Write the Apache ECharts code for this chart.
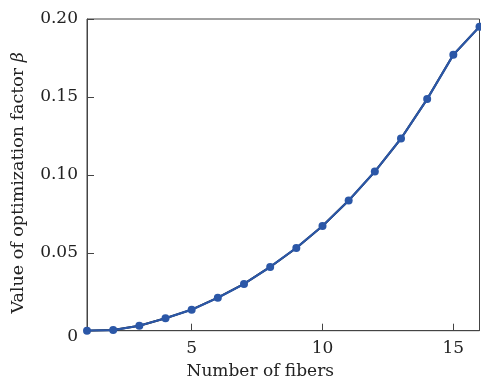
<!DOCTYPE html>
<html><head><meta charset="utf-8">
<script src="https://cdn.jsdelivr.net/npm/echarts@6/dist/echarts.min.js"></script>
<style>html,body{margin:0;padding:0;background:#fff}#c{width:481px;height:378px}</style>
</head><body><div id="c"></div>
<script>
const fibers = [1,2,3,4,5,6,7,8,9,10,11,12,13,14,15,16];
const beta = [0,0.0004,0.0032,0.0080,0.0135,0.0212,0.0300,0.0409,0.0531,0.0672,0.0835,0.1021,0.1233,0.1486,0.1770,0.1951];
const xTicks = [5,10,15];
const yTicks = [0,0.05,0.10,0.15,0.20];

const pts = fibers.map((x,i)=>[x,beta[i]]);
const font = '"DejaVu Serif", "Liberation Serif", serif';
const chart = echarts.init(document.getElementById('c'));
chart.setOption({
  animation:false,
  grid:{left:87,top:19,right:1.5,bottom:47.3,show:true,borderColor:'#444',borderWidth:1,
    containLabel:false,outerBoundsMode:'none'},
  xAxis:{type:'value',min:1,max:16,
    axisLine:{show:true,lineStyle:{color:'#444',width:1}},
    axisTick:{show:true,inside:true,length:7,lineStyle:{color:'#444'},customValues:xTicks},
    splitLine:{show:false},
    axisLabel:{color:'#222',fontFamily:font,fontSize:17,margin:9,customValues:xTicks},
    name:'Number of fibers',nameLocation:'middle',nameGap:32,
    nameTextStyle:{color:'#222',fontFamily:font,fontSize:17,padding:[0,46,0,0]}},
  yAxis:{type:'value',min:0,max:0.2,interval:0.05,
    axisLine:{show:true,lineStyle:{color:'#444',width:1}},
    axisTick:{show:true,inside:true,length:7,lineStyle:{color:'#444'}},
    splitLine:{show:false},
    axisLabel:{color:'#222',fontFamily:font,fontSize:17,margin:9,
      formatter:v=>{const t=yTicks.find(k=>Math.abs(k-v)<1e-9);return t===0?'{z|0}':t.toFixed(2);},
      rich:{z:{fontFamily:font,fontSize:17,color:'#222',padding:[12,0,0,0]}}},
    name:'Value of optimization factor {b|β}',nameLocation:'middle',nameGap:60,
    nameTextStyle:{color:'#222',fontFamily:font,fontSize:17.5,padding:[0,16,0,0],
      rich:{b:{fontStyle:'italic',fontFamily:font,fontSize:17.5,color:'#222'}}}},
  series:[
    {type:'line',data:pts,symbol:'circle',symbolSize:5,lineStyle:{color:'#111',width:2},itemStyle:{color:'#111'},z:1},
    {type:'line',data:pts,symbol:'circle',symbolSize:8,lineStyle:{color:'#2b57a7',width:2.2},itemStyle:{color:'#2b57a7'},z:2}
  ]
});
</script></body></html>
